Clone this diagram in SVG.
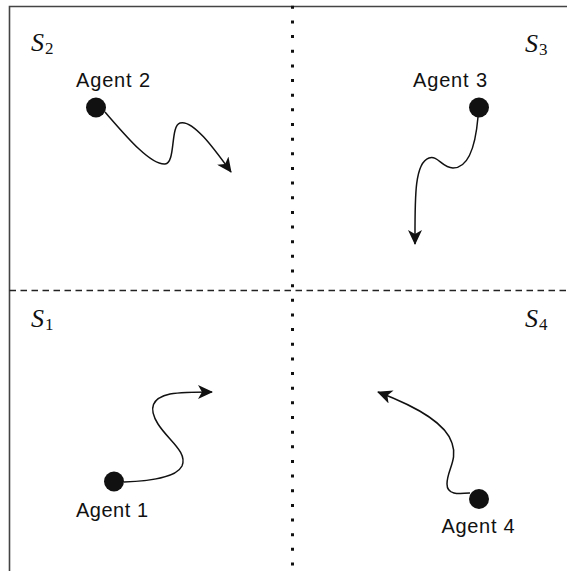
<svg xmlns="http://www.w3.org/2000/svg" width="567" height="571" viewBox="0 0 567 571">
  <style>
    .frame { fill: none; stroke: #444; stroke-width: 1.6; }
    .split-h { fill: none; stroke: #222; stroke-width: 1.3; stroke-dasharray: 6.5 4.5; }
    .split-v { fill: none; stroke: #111; stroke-width: 3; stroke-dasharray: 3 11.65; }
    .path { fill: none; stroke: #111; stroke-width: 1.5; }
    .agent { fill: #111; }
    .name { font-family: "Liberation Sans", Arial, Helvetica, sans-serif; font-size: 20px; fill: #111; }
    .set { font-family: "Liberation Serif", "Times New Roman", serif; font-style: italic; font-size: 26px; fill: #111; }
    .sub { font-family: "Liberation Serif", "Times New Roman", serif; font-style: normal; font-size: 17px; }
  </style>
  <defs>
    <marker id="arrow" markerUnits="userSpaceOnUse" markerWidth="16" markerHeight="14" viewBox="0 0 16 14" refX="14" refY="7" orient="auto">
      <path d="M0,0 L15,7 L0,14 L4,7 Z" fill="#111"/>
    </marker>
  </defs>

  <rect width="567" height="571" fill="#fff"/>

  <!-- quadrant boundaries -->
  <g id="boundaries">
    <path class="frame" d="M9.5,571 V6.5 H567"/>
    <path class="split-h" d="M9.5,290.5 H567"/>
    <path class="split-v" d="M292.5,5.8 V571"/>
  </g>

  <!-- region labels -->
  <g id="region-labels">
    <text class="set" x="31" y="51">S<tspan class="sub" dx="1" dy="3">2</tspan></text>
    <text class="set" x="525" y="52">S<tspan class="sub" dx="1" dy="3">3</tspan></text>
    <text class="set" x="31" y="327">S<tspan class="sub" dx="1" dy="3">1</tspan></text>
    <text class="set" x="525" y="327">S<tspan class="sub" dx="1" dy="3">4</tspan></text>
  </g>

  <!-- agents -->
  <g id="agent-1">
    <circle class="agent" cx="114" cy="481.5" r="10"/>
    <text class="name" x="76" y="516.5" textLength="72" lengthAdjust="spacing">Agent 1</text>
  </g>
  <g id="agent-2">
    <circle class="agent" cx="96" cy="107.5" r="10"/>
    <text class="name" x="76" y="87" textLength="74" lengthAdjust="spacing">Agent 2</text>
  </g>
  <g id="agent-3">
    <circle class="agent" cx="479" cy="107.5" r="10"/>
    <text class="name" x="413" y="87" textLength="74" lengthAdjust="spacing">Agent 3</text>
  </g>
  <g id="agent-4">
    <circle class="agent" cx="479" cy="499" r="10"/>
    <text class="name" x="441.5" y="533" textLength="73" lengthAdjust="spacing">Agent 4</text>
  </g>

  <!-- movement trajectories -->
  <g id="connectors">
    <path class="path" marker-end="url(#arrow)" d="M124,482 C150,481 176,478 182,466 C188,452 168,440 158,424 C148,408 152,398 170,394 C182,392 196,392 212,392"/>
    <path class="path" marker-end="url(#arrow)" d="M105,112 C125,135 150,165 165,164 C176,163 170,126 180,123 C193,119 215,150 231,172"/>
    <path class="path" marker-end="url(#arrow)" d="M478,117 C476,140 470,168 453,168 C442,168 438,155 429,158 C414,163 415,200 415,244"/>
    <path class="path" marker-end="url(#arrow)" d="M470,493 C458,494 447,495 447,484 C447,470 458,460 452,443 C446,424 420,408 378,392"/>
  </g>
</svg>
